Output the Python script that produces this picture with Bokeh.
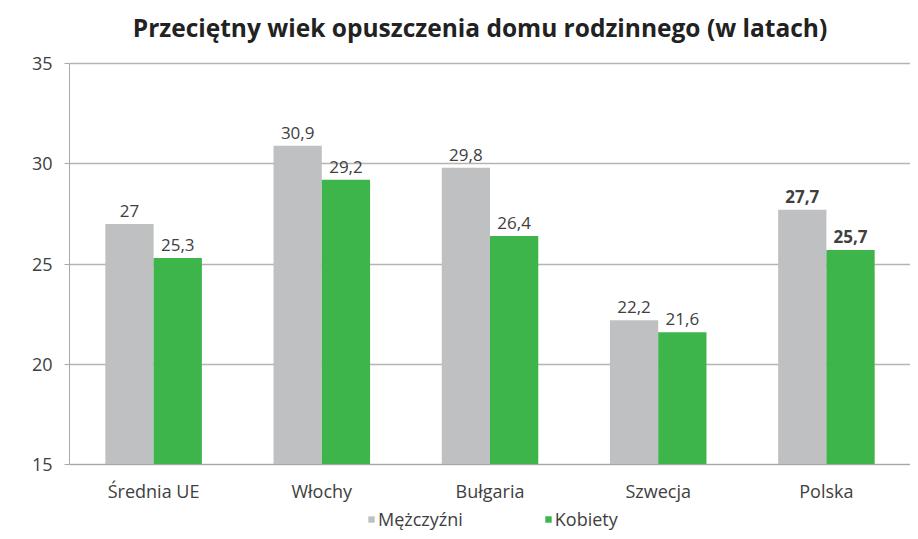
from bokeh.plotting import figure
from bokeh.models import (ColumnDataSource, Legend, LegendItem, FixedTicker,
                          Range1d, Label)
from bokeh.transform import dodge
from bokeh.embed import file_html
from bokeh.resources import INLINE
from bokeh.core.properties import value

title_text = "Przeciętny wiek opuszczenia domu rodzinnego (w latach)"
categories = ["Średnia UE", "Włochy", "Bułgaria", "Szwecja", "Polska"]
men = [27.0, 30.9, 29.8, 22.2, 27.7]
women = [25.3, 29.2, 26.4, 21.6, 25.7]
men_labels = ["27", "30,9", "29,8", "22,2", "27,7"]
women_labels = ["25,3", "29,2", "26,4", "21,6", "25,7"]
label_styles = ["normal", "normal", "normal", "normal", "bold"]
y_ticks = [15, 20, 25, 30, 35]
series_names = ["Mężczyźni", "Kobiety"]

GRAY = "#bfc0c2"
GREEN = "#3db54a"
TEXT = "#404040"
FONT = "Open Sans"

# layout (pixels)
W, H = 910, 531
LEFT = 69
AXIS_TOP_PX, AXIS_BOTTOM_PX = 63, 464
ppu = (AXIS_BOTTOM_PX - AXIS_TOP_PX) / (y_ticks[-1] - y_ticks[0])
y_start = y_ticks[0] - (H - AXIS_BOTTOM_PX) / ppu
y_end = y_ticks[-1] + AXIS_TOP_PX / ppu

src = ColumnDataSource(dict(cat=categories, men=men, women=women,
                            ml=men_labels, wl=women_labels, st=label_styles))

p = figure(x_range=categories, y_range=Range1d(y_start, y_end),
           width=W, height=H, output_backend="svg", toolbar_location=None,
           min_border_left=LEFT, min_border_right=0, min_border_top=0,
           min_border_bottom=0)

bw = 0.287
r1 = p.vbar(x=dodge("cat", -bw / 2, range=p.x_range), top="men", bottom=y_ticks[0],
            width=bw, source=src, fill_color=GRAY, line_color=None)
r2 = p.vbar(x=dodge("cat", bw / 2, range=p.x_range), top="women", bottom=y_ticks[0],
            width=bw, source=src, fill_color=GREEN, line_color=None)

p.text(x=dodge("cat", -bw / 2, range=p.x_range), y="men", text="ml", source=src,
       text_align="center", text_baseline="bottom", y_offset=-7,
       text_font=value(FONT), text_font_size="17px", text_color=TEXT,
       text_font_style="st")
p.text(x=dodge("cat", bw / 2, range=p.x_range), y="women", text="wl", source=src,
       text_align="center", text_baseline="bottom", y_offset=-7,
       text_font=value(FONT), text_font_size="17px", text_color=TEXT,
       text_font_style="st")

p.outline_line_color = None
p.xgrid.grid_line_color = None
p.ygrid.grid_line_color = "#b5b5b5"
p.ygrid.grid_line_width = 1.5
p.yaxis.ticker = FixedTicker(ticks=y_ticks)
p.yaxis.bounds = (y_ticks[0], y_ticks[-1])
p.yaxis.axis_line_color = "#a8a8a8"
p.yaxis.major_tick_line_color = "#a8a8a8"
p.yaxis.major_tick_out = 5
p.yaxis.major_tick_in = 0
p.yaxis.minor_tick_line_color = None
p.yaxis.major_label_standoff = 12
p.yaxis.major_label_text_font = FONT
p.yaxis.major_label_text_font_size = "18px"
p.yaxis.major_label_text_color = TEXT

p.xaxis.fixed_location = y_ticks[0]
p.xaxis.axis_line_color = "#a8a8a8"
p.xaxis.major_tick_line_color = None
p.xaxis.major_tick_out = 0
p.xaxis.major_label_standoff = 14
p.xaxis.major_label_text_font = FONT
p.xaxis.major_label_text_font_size = "18px"
p.xaxis.major_label_text_color = TEXT

title = Label(x=(W - LEFT) / 2 - 10, y=H - 27, x_units="screen", y_units="screen",
              text=title_text, text_align="center", text_baseline="middle",
              text_font=FONT, text_font_size="24.5px", text_font_style="bold",
              text_color="#222222")
p.add_layout(title)

legend = Legend(items=[LegendItem(label=series_names[0], renderers=[r1]),
                       LegendItem(label=series_names[1], renderers=[r2])],
                orientation="horizontal", location=(298, 0),
                glyph_width=8, glyph_height=8, spacing=81, padding=0, margin=0,
                label_text_font=FONT, label_text_font_size="18px",
                label_text_color=TEXT, border_line_color=None,
                background_fill_alpha=0, label_standoff=3)
p.add_layout(legend, "center")

open("out.html", "w").write(file_html(p, INLINE))
